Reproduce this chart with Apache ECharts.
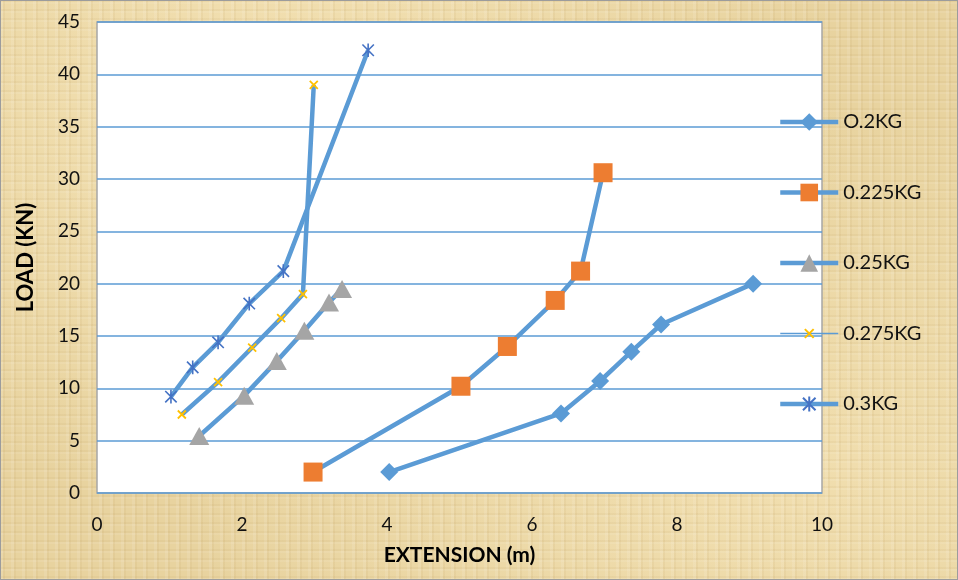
<!DOCTYPE html>
<html>
<head>
<meta charset="utf-8">
<script src="https://cdn.jsdelivr.net/npm/echarts@6/dist/echarts.min.js"></script>
<style>
  html, body { margin: 0; padding: 0; }
  body {
    width: 958px; height: 580px; overflow: hidden;
    background-color: #e8d39f;
    background-image:
      repeating-linear-gradient(90deg, rgba(255,255,255,0.10) 0 3px, rgba(160,120,50,0.07) 3px 5px, rgba(255,255,255,0) 5px 11px),
      repeating-linear-gradient(0deg, rgba(255,255,255,0.08) 0 2px, rgba(150,110,40,0.06) 2px 4px, rgba(255,255,255,0) 4px 9px),
      radial-gradient(ellipse at 30% 20%, rgba(255,240,200,0.5), rgba(255,240,200,0) 60%),
      radial-gradient(ellipse at 80% 80%, rgba(255,240,200,0.4), rgba(255,240,200,0) 55%);
  }
  #chart {
    width: 956px; height: 578px;
    border: 1px solid #9c9c9c;
  }
</style>
</head>
<body>
<div id="chart"></div>
<script>
// extension (m) / load (KN)
const names = ['O.2KG', '0.225KG', '0.25KG', '0.275KG', '0.3KG'];

const ext_02 = [4.03, 6.4, 6.94, 7.37, 7.78, 9.05];
const load_02 = [2.0, 7.6, 10.7, 13.5, 16.1, 20.0];

const ext_0225 = [2.98, 5.02, 5.66, 6.32, 6.67, 6.98];
const load_0225 = [2.0, 10.2, 14.0, 18.4, 21.2, 30.6];

const ext_025 = [1.41, 2.03, 2.48, 2.86, 3.2, 3.38];
const load_025 = [5.45, 9.3, 12.6, 15.5, 18.2, 19.5];

const ext_0275 = [1.17, 1.67, 2.14, 2.54, 2.84, 2.99];
const load_0275 = [7.5, 10.6, 13.9, 16.7, 19.0, 39.0];

const ext_03 = [1.02, 1.32, 1.67, 2.1, 2.57, 3.74];
const load_03 = [9.2, 12.0, 14.4, 18.1, 21.2, 42.3];

const yTicks = [0, 5, 10, 15, 20, 25, 30, 35, 40, 45];
const xTicks = [0, 2, 4, 6, 8, 10];

function pairs(xs, ys) {
  return xs.map((x, i) => [x, ys[i]]);
}

const lineBlue = '#5b9bd5';
const font = 'Lato, "Open Sans", sans-serif';

// small x and asterisk markers; the outer moveTo points pad the box so the
// legend icon (always 80% of itemHeight) stays small too
const xMark = 'path://M-5,-5M0,0L10,10M10,0L0,10M15,15';
const starMark = 'path://M-2,-2M0,0L10,10M10,0L0,10M5,-1L5,11M12,12';

let myChart = echarts.init(document.getElementById('chart'));

function lineSeries(name, data, symbol, size, color, border) {
  return {
    name: name,
    type: 'line',
    data: data,
    symbol: symbol,
    symbolSize: size,
    showSymbol: true,
    lineStyle: { color: lineBlue, width: 4.5 },
    itemStyle: border
      ? { color: color, borderColor: color, borderWidth: border }
      : { color: color, borderWidth: 0 },
    emphasis: { disabled: true },
    z: 2
  };
}

myChart.setOption({
  animation: false,
  backgroundColor: 'transparent',
  textStyle: { fontFamily: font },
  grid: {
    left: 96, right: 135, top: 21, bottom: 86,
    show: true,
    backgroundColor: '#ffffff',
    borderColor: '#a6a6a6',
    borderWidth: 1.5
  },
  legend: {
    orient: 'vertical',
    left: 772,
    top: 106,
    itemWidth: 58,
    itemHeight: 22,
    itemGap: 50.5,
    lineStyle: { width: 4.5, color: lineBlue },
    textStyle: { fontSize: 20, color: '#111', fontFamily: font },
    data: [
      { name: names[0] },
      { name: names[1] },
      { name: names[2] },
      { name: names[3], lineStyle: { width: 1.5, color: lineBlue } },
      { name: names[4] }
    ]
  },
  xAxis: {
    type: 'value',
    min: xTicks[0],
    max: xTicks[xTicks.length - 1],
    interval: 2,
    name: 'EXTENSION (m)',
    nameLocation: 'middle',
    nameGap: 52,
    nameTextStyle: { fontSize: 21, fontWeight: 'bold', color: '#000', fontFamily: font },
    axisLine: { show: false },
    axisTick: { show: false },
    splitLine: { show: false },
    axisLabel: { fontSize: 19, color: '#111', margin: 22 }
  },
  yAxis: {
    type: 'value',
    min: yTicks[0],
    max: yTicks[yTicks.length - 1],
    interval: 5,
    name: 'LOAD (KN)',
    nameLocation: 'middle',
    nameGap: 60,
    nameTextStyle: { fontSize: 22, fontWeight: 'bold', color: '#000', fontFamily: font },
    axisLine: { show: false },
    axisTick: { show: false },
    splitLine: { lineStyle: { color: lineBlue, width: 1.5 } },
    axisLabel: { fontSize: 19, color: '#111', margin: 17 }
  },
  series: [
    lineSeries(names[0], pairs(ext_02, load_02), 'diamond', 18, '#5b9bd5'),
    lineSeries(names[1], pairs(ext_0225, load_0225), 'rect', 19, '#ed7d31'),
    lineSeries(names[2], pairs(ext_025, load_025), 'triangle', [20, 18], '#a5a5a5'),
    lineSeries(names[3], pairs(ext_0275, load_0275), xMark, 16, '#ffc000', 1.8),
    lineSeries(names[4], pairs(ext_03, load_03), starMark, 16, '#4472c4', 1.6)
  ]
});
</script>
</body>
</html>
